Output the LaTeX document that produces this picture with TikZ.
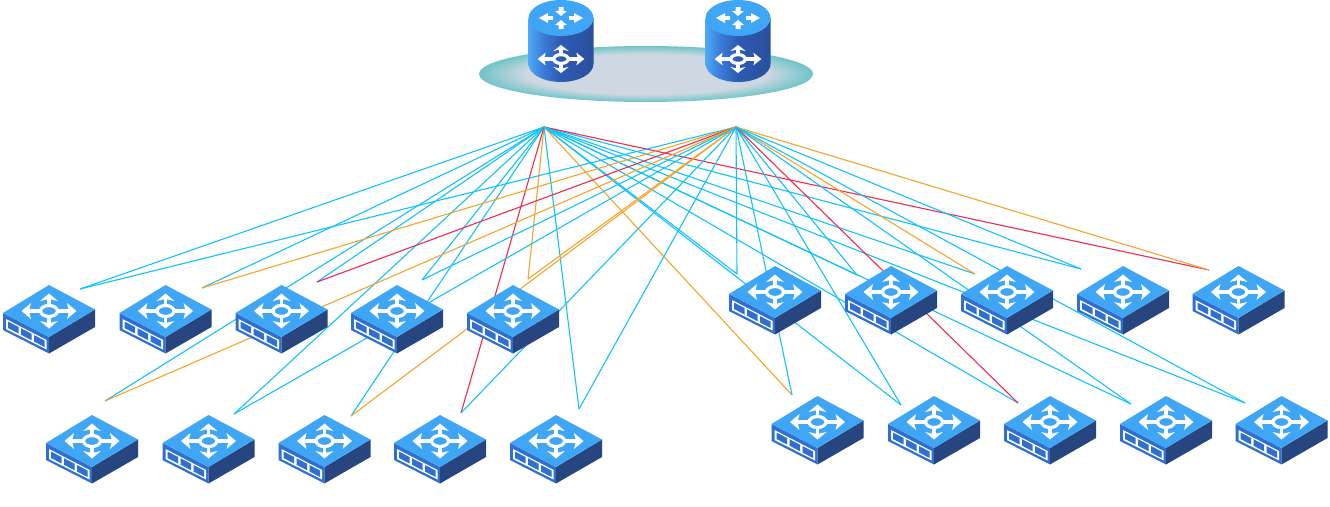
\documentclass[tikz,border=0pt]{standalone}
\definecolor{cyanlink}{HTML}{12C2FA}
\definecolor{orangelink}{HTML}{F3A42C}
\definecolor{redlink}{HTML}{EF2B50}
\definecolor{topblue}{HTML}{3FA5F5}
\definecolor{frontblue}{HTML}{2F6FD2}
\definecolor{darkblue}{HTML}{27457F}
\definecolor{discin}{HTML}{CDD8E2}
\definecolor{discout}{HTML}{6FC4C8}
\definecolor{cyla}{HTML}{4EA9F7}
\definecolor{cylb}{HTML}{3A7CD8}
\definecolor{cylc}{HTML}{2D5BB2}
\definecolor{cyld}{HTML}{2A4F9E}
\pgfdeclareradialshading{discglow}{\pgfpoint{0bp}{0bp}}{color(0bp)=(discin); color(18bp)=(discin); color(25bp)=(discout); color(50bp)=(discout)}
\pgfdeclarehorizontalshading{cylbody}{100bp}{color(0bp)=(cyla); color(25bp)=(cyla); color(36bp)=(cylb); color(50bp)=(cylc); color(75bp)=(cyld); color(100bp)=(cyld)}
\tikzset{
  linkc/.style={draw=cyanlink,line width=1.1pt},
  linko/.style={draw=orangelink,line width=1.1pt},
  linkr/.style={draw=redlink,line width=1.1pt},
  iconline/.style={draw=white,line width=3.2pt},
  crossicon/.pic={
    \draw[iconline] (0,0) ellipse[x radius=8.5,y radius=5.5];
    \draw[iconline] (-8.5,0)--(-22,0) (8.5,0)--(22,0) (0,-5.5)--(0,-13) (0,5.5)--(0,13);
    \fill[white] (-27.5,0)--(-18,-8)--(-20,0)--(-18,8)--cycle;
    \fill[white] (27.5,0)--(18,-8)--(20,0)--(18,8)--cycle;
    \fill[white] (0,-17.5)--(-9,-10)--(0,-12)--(9,-10)--cycle;
    \fill[white] (0,17.5)--(-9,10)--(0,12)--(9,10)--cycle;
  },
  switchbox/.pic={
    \coordinate (-c) at (0,0);
    \fill[frontblue] (-46,2)--(0,26)--(0,42.5)--(-46,19)--cycle;
    \fill[darkblue] (46,-1.5)--(0,26)--(0,42.5)--(46,16)--cycle;
    \fill[topblue] (0,-26)--(46,-1.5)--(0,26)--(-46,2)--cycle;
    % slot frame and its three panels, along the front face
    \fill[white] (-43,8)--(-2.5,29)--(-2.5,38.5)--(-43,18)--cycle;
    \fill[frontblue] (-41,10.5)--(-30.5,16)--(-30.5,22.5)--(-41,17)--cycle;
    \fill[frontblue] (-28,17.2)--(-17.5,22.7)--(-17.5,29.2)--(-28,23.7)--cycle;
    \fill[frontblue] (-15,24)--(-4.5,29.5)--(-4.5,36)--(-15,30.5)--cycle;
    \pic {crossicon};
  },
  routerdrum/.pic={
    \coordinate (-c) at (0,0);
    \shade[shading=cylbody] (-32.5,18)--(-32.5,64) .. controls (-32.5,73.9) and (-18,82) .. (0,82) .. controls (18,82) and (32.5,73.9) .. (32.5,64)--(32.5,18)--cycle;
    \fill[topblue] (0,18) ellipse[x radius=32.5,y radius=18];
    \begin{scope}[shift={(0,18)}]
      \fill[white] (-22,0)--(-13,-5)--(-13,-1.8)--(-8,-1.8)--(-8,1.8)--(-13,1.8)--(-13,5)--cycle;
      \fill[white] (22,0)--(13,-5)--(13,-1.8)--(8,-1.8)--(8,1.8)--(13,1.8)--(13,5)--cycle;
      \fill[white] (0,-2)--(-6,-7)--(-2.5,-7)--(-2.5,-11)--(2.5,-11)--(2.5,-7)--(6,-7)--cycle;
      \fill[white] (0,2)--(-6,7)--(-2.5,7)--(-2.5,11)--(2.5,11)--(2.5,7)--(6,7)--cycle;
    \end{scope}
    \pic[xscale=0.85,yscale=0.8] at (0,59) {crossicon};
  },
}
\begin{document}
\begin{tikzpicture}[x=1pt,y=-1pt]
\path[use as bounding box] (0,0) rectangle (1330,506);
% platform
\shade[shading=discglow] (646,74) ellipse[x radius=167,y radius=28];
\pic (r1) at (561,0) {routerdrum};
\pic (r2) at (738,0) {routerdrum};
% hubs
\coordinate (hubA) at (544,127);
\coordinate (hubB) at (736,127);
% free ends of the links
\foreach \n/\x/\y in {
  ta/80/289, tb/202/288, tc/317/282, td/422/280, te/528/279,
  ba/105/401, bb/234/414, bc/351/416, bd/461/413, be/579/409,
  ua/737/274, ub/857/275, uc/975/274, ud/1081/269, ue/1209/270,
  va/792/395, vb/901/405, vc/1018/403, vd/1131/404, ve/1245/403}
  \coordinate (\n) at (\x,\y);
% links from hub A
\foreach \e/\s in {ta/linkc,tb/linkc,tc/linkc,td/linkc,te/linko,
  ba/linkc,bb/linkc,bc/linkc,bd/linkr,be/linkc,
  ua/linkc,ub/linkc,uc/linkc,ud/linkc,ue/linkr,
  va/linko,vb/linkc,vc/linkc,vd/linkc,ve/linkc}
  \draw[\s] (hubA) -- (\e);
% links from hub B
\foreach \e/\s in {ta/linkc,tb/linko,tc/linkr,td/linkc,te/linko,
  ba/linko,bb/linkc,bc/linko,bd/linkc,be/linkc,
  ua/linkc,ub/linkc,uc/linko,ud/linkc,ue/linko,
  va/linkc,vb/linkc,vc/linkr,vd/linkc,ve/linkc}
  \draw[\s] (hubB) -- (\e);
% switches
\foreach \n/\x/\y in {
  s1/49/311, s2/165.5/311, s3/281.5/311, s4/397/311, s5/513/311,
  s6/92/441, s7/208.5/441, s8/324.5/441, s9/440/441, s10/556/441,
  s11/775/292, s12/891/292, s13/1007/292, s14/1123/292, s15/1238.5/292,
  s16/817.5/422, s17/934/422, s18/1050/422, s19/1166/422, s20/1281.5/422}
  \pic (\n) at (\x,\y) {switchbox};
\end{tikzpicture}
\end{document}
